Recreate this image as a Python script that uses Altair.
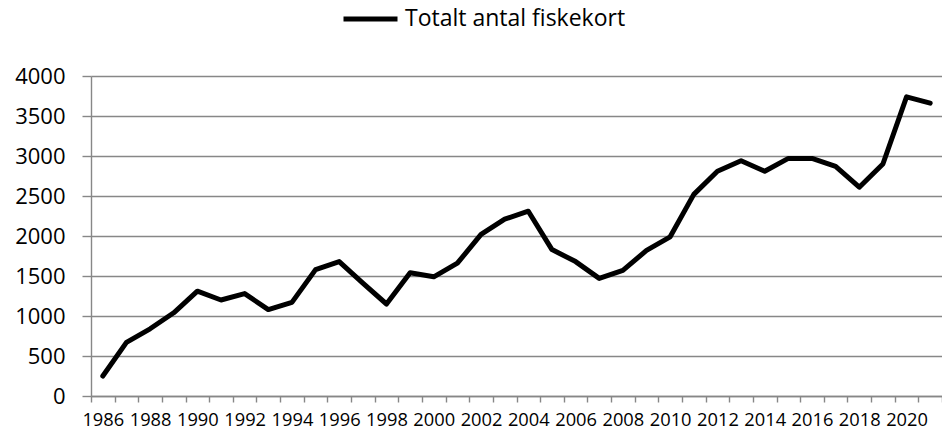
import altair as alt
import pandas as pd

years = list(range(1986, 2022))
values = [250, 670, 840, 1040, 1310, 1200, 1280, 1080, 1170, 1580,
          1680, 1410, 1150, 1540, 1490, 1660, 2020, 2210, 2310, 1830,
          1680, 1470, 1570, 1820, 1990, 2520, 2810, 2940, 2810, 2970,
          2970, 2870, 2610, 2900, 3740, 3660]
series_name = "Totalt antal fiskekort"
y_ticks = [0, 500, 1000, 1500, 2000, 2500, 3000, 3500, 4000]

df = pd.DataFrame({"year": years, "value": values, "series": series_name})

GRAY = "#878787"
FONT = "Open Sans"
LW = 1.4

chart = alt.Chart(df).mark_line(
    strokeWidth=5, strokeJoin="round", strokeCap="round"
).encode(
    x=alt.X(
        "year:O",
        scale=alt.Scale(type="band", paddingInner=0, paddingOuter=0),
        axis=alt.Axis(
            title=None, labelAngle=0, tickBand="extent", grid=False,
            labelExpr="datum.value % 2 == 0 ? datum.label : ''",
            labelOverlap=False,
            domainColor=GRAY, tickColor=GRAY, domainWidth=LW, tickWidth=LW,
            tickSize=6, labelPadding=9,
            labelFont=FONT, labelFontSize=18.3, labelColor="black",
        ),
    ),
    y=alt.Y(
        "value:Q",
        scale=alt.Scale(domain=[0, 4000], nice=False),
        axis=alt.Axis(
            values=y_ticks, title=None, grid=True, gridColor=GRAY, format="d",
            gridWidth=LW, domainWidth=LW, tickWidth=LW,
            domainColor=GRAY, tickColor=GRAY, tickSize=9, labelPadding=17,
            labelFont=FONT, labelFontSize=22, labelColor="black",
        ),
    ),
    color=alt.Color(
        "series:N",
        scale=alt.Scale(domain=[series_name], range=["#000000"]),
        legend=alt.Legend(
            title=None, orient="none", legendX=250, legendY=-77,
            symbolType="stroke", symbolSize=2916, symbolStrokeWidth=5,
            clipHeight=40,
            labelFont=FONT, labelFontSize=23, labelColor="black",
            labelOffset=5, padding=0, labelLimit=0,
        ),
    ),
).properties(
    width=851, height=320,
    autosize=alt.AutoSizeParams(type="none"),
    padding={"left": 83, "top": 68, "right": 0, "bottom": 35},
).configure_view(stroke=None)

chart.save("out.html", embed_options={"renderer": "svg", "actions": False})
